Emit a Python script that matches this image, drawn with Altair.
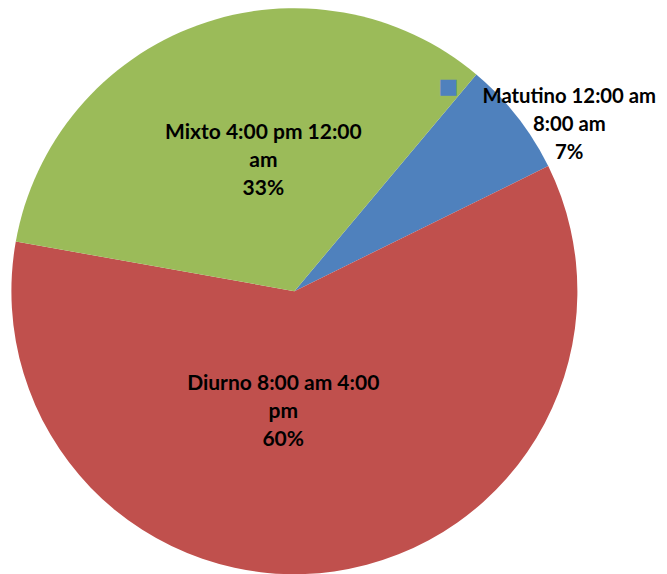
import math
import altair as alt
import pandas as pd

categories = ["Matutino 12:00 am 8:00 am", "Diurno 8:00 am 4:00 pm", "Mixto 4:00 pm 12:00 am"]
values = [6.6, 60.1, 33.3]
label_lines = ["Matutino 12:00 am\n8:00 am", "Diurno 8:00 am 4:00\npm", "Mixto 4:00 pm 12:00\nam"]
colors = ["#4F81BD", "#C0504D", "#9BBB59"]

total = sum(values)
df = pd.DataFrame({
    "cat": categories,
    "value": values,
    "idx": list(range(len(categories))),
    "label": [f"{l}\n{round(v / total * 100)}%" for l, v in zip(label_lines, values)],
})

start = math.radians(40)
theta_scale = alt.Scale(domain=[0, total], range=[start, start + 2 * math.pi])
cx, cy = 286.4, 283.2

base = alt.Chart(df)

pie = base.mark_arc(radius=283).encode(
    theta=alt.Theta("value:Q", stack=True, scale=theta_scale),
    color=alt.Color("cat:N", scale=alt.Scale(domain=categories, range=colors), legend=None),
    order=alt.Order("idx:Q"),
    x=alt.value(cx),
    y=alt.value(cy),
)

mids = base.transform_window(
    cum="sum(value)", sort=[alt.SortField("idx")], frame=[None, 0]
).transform_calculate(mid="datum.cum - datum.value / 2")

text_style = dict(font="Lato", fontWeight="bold", lineBreak="\n",
                  lineHeight=28, align="center", baseline="middle", color="black")

# radius, dx, dy, font size
label_place = {0: (324, 20, 6, 20.3), 1: (120, -28, -26, 21), 2: (135, 15, -31, 21)}
layers = [pie]
for i, (r, ddx, ddy, fs) in label_place.items():
    layers.append(
        mids.transform_filter(alt.datum.idx == i)
        .mark_text(radius=r, dx=ddx, dy=ddy, fontSize=fs, **text_style)
        .encode(
            theta=alt.Theta("mid:Q", scale=theta_scale, stack=None),
            text="label:N",
            x=alt.value(cx),
            y=alt.value(cy),
        )
    )

key = (
    mids.transform_filter(alt.datum.idx == 0)
    .mark_text(radius=324, dx=-101, dy=-4.5, font="DejaVu Sans", fontSize=21,
               align="center", baseline="middle", text="■")
    .encode(
        theta=alt.Theta("mid:Q", scale=theta_scale, stack=None),
        color=alt.Color("cat:N", scale=alt.Scale(domain=categories, range=colors), legend=None),
        x=alt.value(cx),
        y=alt.value(cy),
    )
)
layers.append(key)

chart = alt.layer(*layers).properties(
    width=651, height=566, padding=0,
    autosize=alt.AutoSizeParams(type="none"),
).configure_view(stroke=None)

chart.save("out.html", embed_options={"renderer": "svg", "actions": False})
